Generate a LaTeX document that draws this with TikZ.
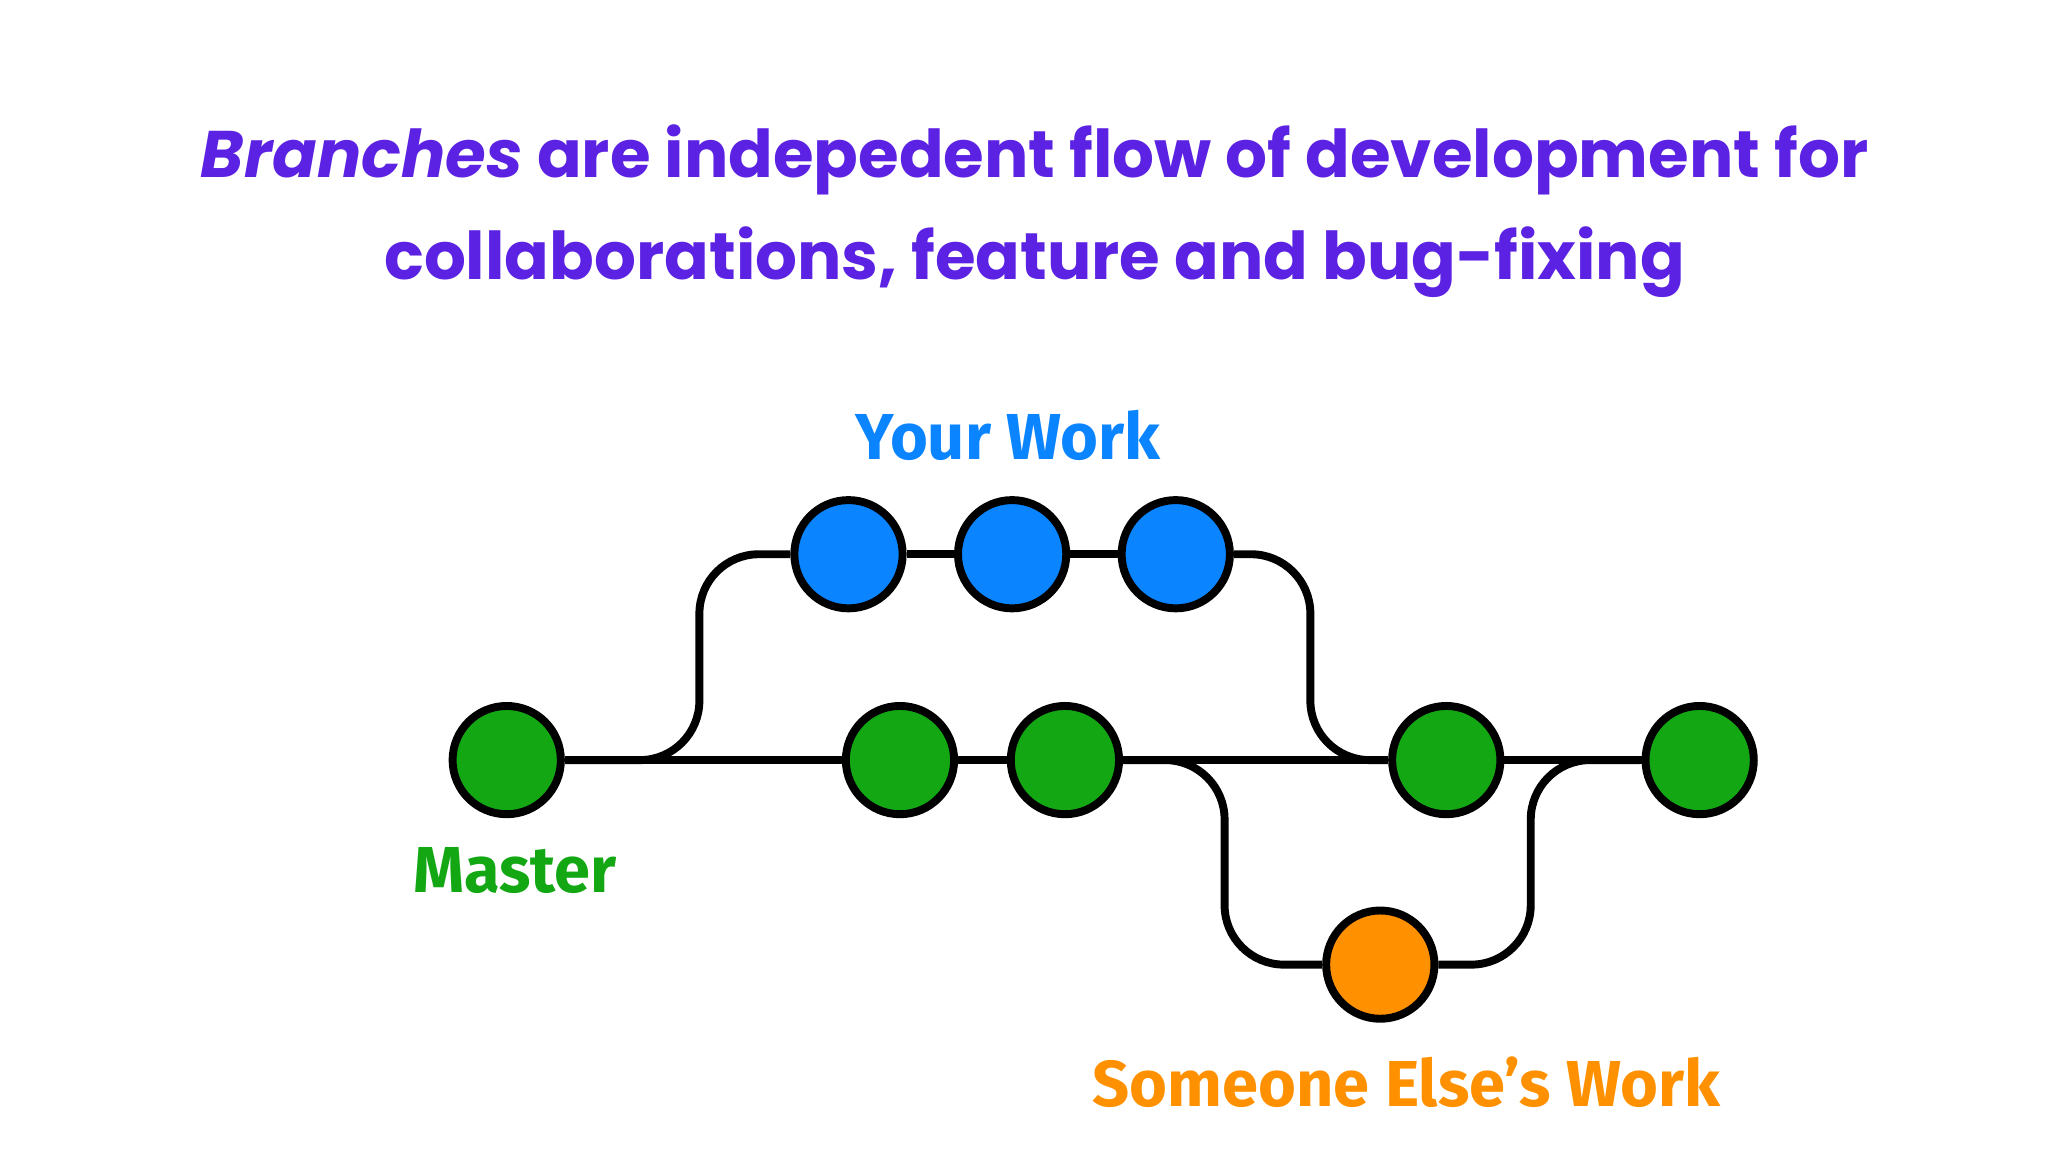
\documentclass[tikz,border=0pt]{standalone}
\usepackage{fontspec}
\setmainfont{Poppins}
\newfontfamily\lblfont{Fira Sans}
\definecolor{ttl}{HTML}{5B22E3}
\definecolor{gr}{HTML}{13A813}
\definecolor{bl}{HTML}{0A84FF}
\definecolor{orn}{HTML}{FF9100}
\begin{document}
\begin{tikzpicture}[x=0.01cm,y=-0.01cm,
  commit/.style={circle,draw=black,line width=0.6mm,minimum size=0.82cm,inner sep=0pt},
  br/.style={line width=0.6mm,rounded corners=0.45cm},
  lbl/.style={font=\lblfont\bfseries\fontsize{14}{16}\selectfont}]
\useasboundingbox (0,0) rectangle (1552,873);
\node[font=\bfseries\fontsize{14.2}{18}\selectfont,text=ttl,align=center] (t) at (784,160) {\textit{Branches} are indepedent flow of development for\\[4pt]collaborations, feature and bug-fixing};
\node[commit,fill=gr] (m1) at (384,576) {};
\node[commit,fill=gr] (g2) at (682,576) {};
\node[commit,fill=gr] (g3) at (807,576) {};
\node[commit,fill=gr] (g4) at (1096,576) {};
\node[commit,fill=gr] (g5) at (1288,576) {};
\node[commit,fill=bl] (b1) at (643,420) {};
\node[commit,fill=bl] (b2) at (767,420) {};
\node[commit,fill=bl] (b3) at (891,420) {};
\node[commit,fill=orn] (o) at (1046,731) {};
\draw[line width=0.6mm] (m1) -- (g2) (g2) -- (g3) (g3) -- (g4) (g4) -- (g5) (b1) -- (b2) (b2) -- (b3);
\draw[br] (m1.east) -- (530,576) -- (530,420) -- (b1.west);
\draw[br] (b3.east) -- (993,420) -- (993,576) -- (g4.west);
\draw[br] (g3.east) -- (928,576) -- (928,731) -- (o.west);
\draw[br] (o.east) -- (1160,731) -- (1160,576) -- (g5.west);
\node[lbl,text=bl] (yw) at (764,330) {Your Work};
\node[lbl,text=gr] (ms) at (390,660) {Master};
\node[lbl,text=orn] (sw) at (1066,820) {Someone Else’s Work};
\end{tikzpicture}
\end{document}
